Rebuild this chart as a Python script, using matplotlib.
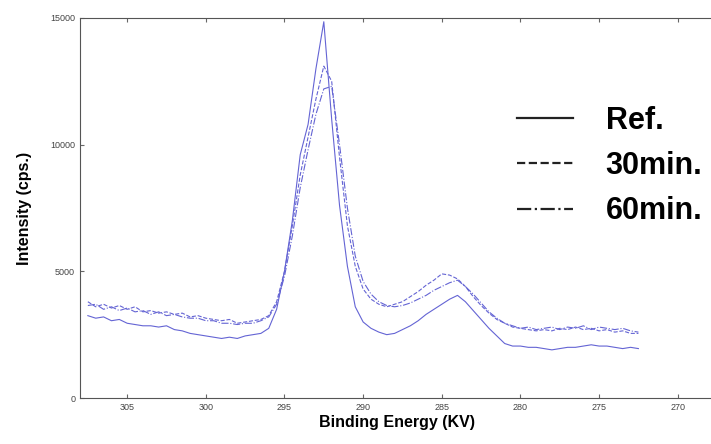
import matplotlib.pyplot as plt
from matplotlib.lines import Line2D
import numpy as np

plt.rcParams['font.family'] = ['Liberation Sans', 'DejaVu Sans']

# binding energy grid (eV), 307.5 -> 272.5 in 0.5 steps
energy = np.arange(307.5, 272.4, -0.5)

ref = [3250, 3150, 3200, 3050, 3100, 2950, 2900, 2850, 2850, 2800,
       2850, 2700, 2650, 2550, 2500, 2450, 2400, 2350, 2400, 2350,
       2450, 2500, 2550, 2750, 3500, 5000, 7000, 9600, 10800, 13000,
       14850, 11000, 7600, 5200, 3600, 3000, 2750, 2600, 2500, 2550,
       2700, 2850, 3050, 3300, 3500, 3700, 3900, 4050, 3800, 3450,
       3100, 2750, 2450, 2150, 2050, 2050, 2000, 2000, 1950, 1900,
       1950, 2000, 2000, 2050, 2100, 2050, 2050, 2000, 1950, 2000,
       1950]

min30 = [3800, 3600, 3700, 3550, 3650, 3500, 3600, 3400, 3450, 3350,
         3400, 3300, 3350, 3200, 3250, 3150, 3100, 3050, 3100, 2950,
         3000, 3050, 3100, 3250, 3800, 5000, 6800, 8800, 10300, 11800,
         13100, 12500, 9500, 6800, 5200, 4300, 3900, 3700, 3600, 3700,
         3800, 4000, 4200, 4450, 4650, 4900, 4850, 4700, 4400, 4000,
         3650, 3350, 3100, 2950, 2800, 2750, 2700, 2650, 2700, 2650,
         2750, 2700, 2800, 2700, 2750, 2650, 2700, 2600, 2650, 2550,
         2550]

min60 = [3650, 3700, 3500, 3600, 3450, 3550, 3400, 3450, 3300, 3400,
         3250, 3300, 3200, 3150, 3150, 3050, 3050, 2950, 2950, 2900,
         2950, 2950, 3050, 3200, 3700, 4800, 6400, 8300, 9800, 11200,
         12200, 12300, 10000, 7500, 5600, 4600, 4100, 3800, 3650, 3600,
         3650, 3750, 3900, 4050, 4250, 4400, 4550, 4650, 4400, 4100,
         3750, 3400, 3150, 2950, 2850, 2750, 2800, 2700, 2750, 2800,
         2700, 2800, 2750, 2850, 2700, 2800, 2750, 2700, 2750, 2650,
         2600]

labels = ['Ref.', '30min.', '60min.']
styles = ['-', '--', '-.']
line_color = '#6464d4'

fig = plt.figure(figsize=(7.11, 4.44), dpi=100)
ax = fig.add_axes([0.1125, 0.1036, 0.8905, 0.856])

for y, ls in zip([ref, min30, min60], styles):
    ax.plot(energy, y, linestyle=ls, color=line_color, linewidth=0.8)

ax.set_xlim(308, 267.75)
ax.set_ylim(0, 15000)
ax.set_xticks([305, 300, 295, 290, 285, 280, 275, 270])
ax.set_yticks([0, 5000, 10000, 15000])
ax.tick_params(direction='in', top=True, length=3, labelsize=6.5,
               labelcolor='#444444', color='#666666')
for s in ax.spines.values():
    s.set_color('#555555')
ax.spines['right'].set_visible(False)

ax.set_xlabel('Binding Energy (KV)', fontsize=11.5, fontweight='bold', labelpad=2)
ax.set_ylabel('Intensity (cps.)', fontsize=11.5, fontweight='bold', labelpad=13)

handles = [Line2D([], [], color='#222222', linestyle=ls, linewidth=1.6) for ls in styles]
ax.legend(handles, labels, loc='upper left', bbox_to_anchor=(0.727, 0.762),
          bbox_transform=fig.transFigure, frameon=False,
          prop={'size': 22, 'weight': 'bold'}, handlelength=1.85,
          handletextpad=1.05, labelspacing=0.5, borderpad=0, borderaxespad=0)

plt.savefig('out.png', dpi=100)
